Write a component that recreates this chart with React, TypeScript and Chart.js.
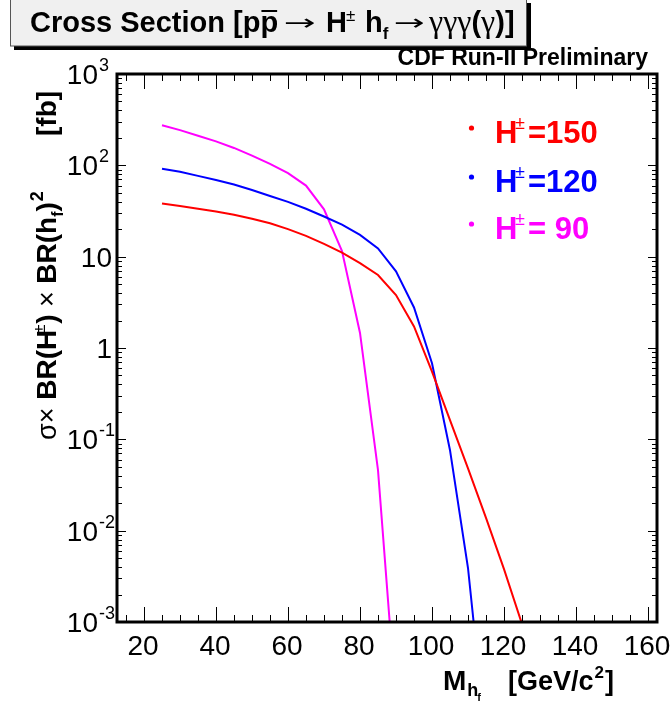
import React, { useEffect, useRef } from "react";
import { Chart, registerables } from "chart.js";

Chart.register(...registerables);

// ---- data ----
const massValues = [25, 30, 35, 40, 45, 50, 55, 60, 65, 70, 75, 80, 85, 90, 95, 100, 105, 110, 115, 120, 125];
const sigmaH150 = [38.3, 35.9, 33.5, 31.3, 28.8, 26.0, 23.2, 20.0, 16.9, 13.8, 11.1, 8.5, 6.3, 3.8, 1.72, 0.55, 0.162, 0.048, 0.0138, 0.0038, 0.00095];
const sigmaH120 = [92, 85, 76.7, 69.2, 61.7, 53.7, 46.2, 39.8, 33.5, 27.5, 22.4, 17.3, 12.3, 6.9, 2.78, 0.68, 0.076, 0.0039, 0.00005];
const sigmaH90 = [275, 243, 211, 183, 155, 128, 104, 82, 60, 33, 11.5, 1.46, 0.046, 0.000126];

const xTickValues = [20, 40, 60, 80, 100, 120, 140, 160];
const xTickLabels = ["20", "40", "60", "80", "100", "120", "140", "160"];
const yTickValues = [0.001, 0.01, 0.1, 1, 10, 100, 1000];
const yTickBase = ["10", "10", "10", "1", "10", "10", "10"];
const yTickExp = ["-3", "-2", "-1", "", "", "2", "3"];

const legendMasses = ["150", "120", " 90"];
const seriesColors = ["#ff0000", "#0000ff", "#ff00ff"];

const SANS = "'Liberation Sans', Arial, sans-serif";
const SERIF = "'Liberation Serif', 'DejaVu Serif', serif";

function put(ctx: CanvasRenderingContext2D, text: string, x: number, y: number, font: string, color = "#000"): number {
  ctx.font = font;
  ctx.fillStyle = color;
  ctx.textAlign = "left";
  ctx.fillText(text, x, y);
  return x + ctx.measureText(text).width;
}

function putStretch(ctx: CanvasRenderingContext2D, text: string, x: number, y: number, font: string, targetW: number, color = "#000") {
  ctx.font = font;
  ctx.fillStyle = color;
  ctx.textAlign = "left";
  const w = ctx.measureText(text).width || 1;
  ctx.save();
  ctx.translate(x, y);
  ctx.scale(targetW / w, 1);
  ctx.fillText(text, 0, 0);
  ctx.restore();
  return x + targetW;
}

const overlayPlugin = {
  id: "overlay",
  afterDraw(chart: any) {
    const ctx: CanvasRenderingContext2D = chart.ctx;
    const xs = chart.scales.x;
    const ys = chart.scales.y;
    const { left, right, top, bottom } = chart.chartArea;
    ctx.save();
    ctx.textBaseline = "alphabetic";

    // ticks (inward, all four sides)
    ctx.strokeStyle = "#000";
    ctx.lineWidth = 1;
    ctx.beginPath();
    for (let v = 15; v <= 160; v += 5) {
      const px = Math.round(xs.getPixelForValue(v)) + 0.5;
      const len = v % 20 === 0 ? 15 : 7;
      ctx.moveTo(px, bottom);
      ctx.lineTo(px, bottom - len);
      ctx.moveTo(px, top);
      ctx.lineTo(px, top + len);
    }
    for (let d = -3; d <= 2; d++) {
      for (let m = 1; m <= 9; m++) {
        const v = m * Math.pow(10, d);
        const py = Math.round(ys.getPixelForValue(v)) + 0.5;
        const len = m === 1 ? 9 : 5;
        ctx.moveTo(left, py);
        ctx.lineTo(left + len, py);
        ctx.moveTo(right, py);
        ctx.lineTo(right - len, py);
      }
    }
    ctx.stroke();

    // frame
    ctx.lineWidth = 3;
    ctx.strokeRect(left, top, right - left, bottom - top);

    // x tick labels
    ctx.fillStyle = "#000";
    ctx.font = `28px ${SANS}`;
    ctx.textAlign = "center";
    xTickValues.forEach((v, i) => {
      ctx.fillText(xTickLabels[i], xs.getPixelForValue(v) - 1, 655);
    });

    // y tick labels
    yTickValues.forEach((v, i) => {
      const py = ys.getPixelForValue(v);
      ctx.font = `28px ${SANS}`;
      if (yTickExp[i]) {
        ctx.textAlign = "right";
        ctx.fillText(yTickBase[i], 98, py + 10);
        ctx.font = `18px ${SANS}`;
        ctx.textAlign = "left";
        ctx.fillText(yTickExp[i], 99, py - 3);
      } else {
        ctx.textAlign = "right";
        ctx.fillText(yTickBase[i], 112, py + 10);
      }
    });

    // title box
    ctx.fillStyle = "#000";
    ctx.fillRect(14, 3, 517, 47);
    ctx.fillStyle = "#f0f0f0";
    ctx.fillRect(10, -2, 517, 48);
    ctx.strokeStyle = "#555";
    ctx.lineWidth = 1;
    ctx.strokeRect(10.5, -2, 516, 48);

    const tb = 32;
    const BT = `bold 29px ${SANS}`;
    const ARROW = `22px 'DejaVu Sans', sans-serif`;
    let x = put(ctx, "Cross Section [p", 30, tb, BT);
    const pw = (() => { ctx.font = BT; return ctx.measureText("p").width; })();
    put(ctx, "p", x, tb, BT);
    ctx.fillStyle = "#000";
    ctx.fillRect(x + 1, tb - 22, pw - 2, 2);
    putStretch(ctx, "\u2192", 284, tb - 2, ARROW, 32);
    put(ctx, "H", 326, tb, BT);
    put(ctx, "\u00b1", 346, tb - 11, `17px ${SANS}`);
    x = put(ctx, "h", 365, tb, BT);
    put(ctx, "f", x, tb + 7, `bold 17px ${SANS}`);
    putStretch(ctx, "\u2192", 394, tb - 2, ARROW, 31);
    x = put(ctx, "\u03b3\u03b3\u03b3", 429, tb, `32px ${SERIF}`);
    x = put(ctx, "(", x, tb, BT);
    x = put(ctx, "\u03b3", x, tb, `32px ${SERIF}`);
    put(ctx, ")]", x, tb, BT);

    // CDF label
    ctx.font = `bold 23px ${SANS}`;
    ctx.textAlign = "right";
    ctx.fillStyle = "#000";
    ctx.fillText("CDF Run-II Preliminary", 648, 65);

    // legend
    const rows = [143, 192, 239];
    legendMasses.forEach((m, i) => {
      const c = seriesColors[i];
      const by = rows[i];
      ctx.fillStyle = c;
      ctx.beginPath();
      ctx.arc(471.5, by - 15, 2.6, 0, Math.PI * 2);
      ctx.fill();
      put(ctx, "H", 495, by, `bold 31px ${SANS}`, c);
      put(ctx, "\u00b1", 515, by - 14, `18px ${SANS}`, c);
      put(ctx, "=" + m, 528, by, `bold 31px ${SANS}`, c);
    });

    // x axis title
    const xb = 690;
    x = put(ctx, "M", 443, xb, `bold 28px ${SANS}`);
    x = put(ctx, "h", x + 1, xb + 6, `bold 18px ${SANS}`);
    put(ctx, "f", x - 1, xb + 11, `bold 11px ${SANS}`);
    x = put(ctx, "[GeV/c", 508, xb, `bold 27px ${SANS}`);
    x = put(ctx, "2", x + 1, xb - 12, `bold 17px ${SANS}`);
    put(ctx, "]", x + 1, xb, `bold 27px ${SANS}`);

    // y axis title (rotated)
    ctx.save();
    ctx.translate(56, 0);
    ctx.rotate(-Math.PI / 2);
    const BY = `bold 28px ${SANS}`;
    const RY = `27px ${SANS}`;
    let u = -440;
    u = put(ctx, "\u03c3", u, 0, RY);
    u = put(ctx, "\u00d7", u, 0, RY);
    u = put(ctx, " BR(H", u, 0, BY);
    put(ctx, "\u00b1", u - 4, -11, `17px ${SANS}`);
    u = put(ctx, ")", u + 6, 0, BY);
    u = put(ctx, " \u00d7 ", u, 0, RY);
    u = put(ctx, "BR(h", u, 0, BY);
    u = put(ctx, "f", u, 7, `bold 16px ${SANS}`);
    u = put(ctx, ")", u, 0, BY);
    put(ctx, "2", u + 1, -13, `bold 18px ${SANS}`);
    put(ctx, "[fb]", -136, 0, BY);
    ctx.restore();

    ctx.restore();
  },
};

export default function App() {
  const canvasRef = useRef<HTMLCanvasElement | null>(null);

  useEffect(() => {
    document.body.style.margin = "0";
    const canvas = canvasRef.current;
    if (!canvas) return;
    const series = [sigmaH150, sigmaH120, sigmaH90];
    const chart = new Chart(canvas, {
      type: "line",
      data: {
        datasets: series.map((s, i) => ({
          label: "H\u00b1=" + legendMasses[i].trim(),
          data: s.map((y, k) => ({ x: massValues[k], y })),
          borderColor: seriesColors[i],
          backgroundColor: seriesColors[i],
          borderWidth: 2,
          pointRadius: 0,
          tension: 0,
          fill: false,
        })),
      },
      options: {
        responsive: false,
        animation: false,
        devicePixelRatio: 1,
        layout: { padding: { left: 117, right: 13, top: 74, bottom: 80 } },
        scales: {
          x: { type: "linear", min: 12.5, max: 162.5, display: false },
          y: { type: "logarithmic", min: 0.001, max: 1000, display: false },
        },
        plugins: {
          legend: { display: false },
          tooltip: { enabled: false },
          title: { display: false },
        },
      },
      plugins: [overlayPlugin],
    });
    return () => chart.destroy();
  }, []);

  return (
    <div style={{ position: "absolute", left: 0, top: 0, width: 670, height: 702, background: "#fff" }}>
      <canvas ref={canvasRef} width={670} height={702} style={{ display: "block" }} />
    </div>
  );
}
